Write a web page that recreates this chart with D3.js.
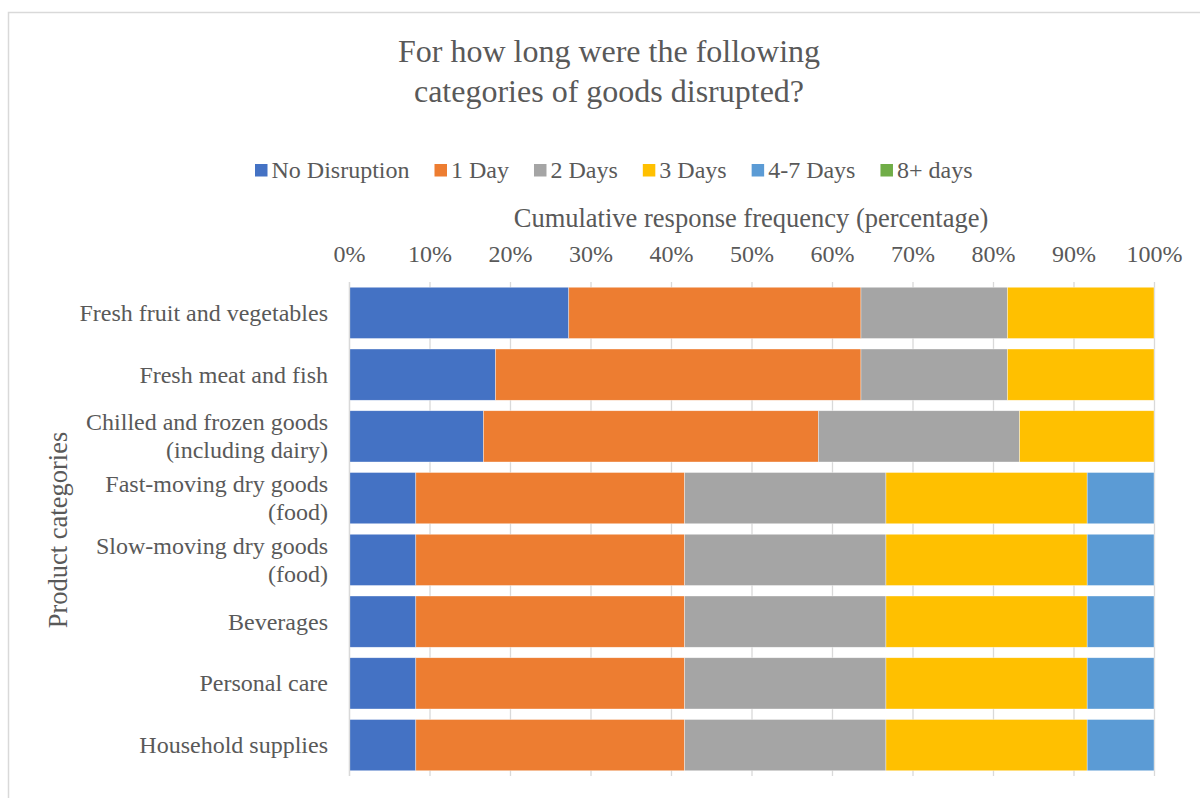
<!DOCTYPE html>
<html><head><meta charset="utf-8">
<script src="https://cdn.jsdelivr.net/npm/d3@7"></script>
<style>body{margin:0;background:#fff}svg{display:block}svg text{font-family:"Liberation Serif","Times New Roman",serif}</style>
</head><body>
<svg id="c" width="1200" height="798"></svg>
<script>
const categories = [
  ["Fresh fruit and vegetables"],
  ["Fresh meat and fish"],
  ["Chilled and frozen goods", "(including dairy)"],
  ["Fast-moving dry goods", "(food)"],
  ["Slow-moving dry goods", "(food)"],
  ["Beverages"],
  ["Personal care"],
  ["Household supplies"]
];
const seriesNames = ["No Disruption", "1 Day", "2 Days", "3 Days", "4-7 Days", "8+ days"];
const noDisruption = [27.3, 18.2, 16.7, 8.3, 8.3, 8.3, 8.3, 8.3];
const oneDay       = [36.3, 45.4, 41.6, 33.4, 33.4, 33.4, 33.4, 33.4];
const twoDays      = [18.2, 18.2, 25.0, 25.0, 25.0, 25.0, 25.0, 25.0];
const threeDays    = [18.2, 18.2, 16.7, 25.0, 25.0, 25.0, 25.0, 25.0];
const fourToSeven  = [0, 0, 0, 8.3, 8.3, 8.3, 8.3, 8.3];
const eightPlus    = [0, 0, 0, 0, 0, 0, 0, 0];
const xTicks = [0, 10, 20, 30, 40, 50, 60, 70, 80, 90, 100];
const colors = ["#4472C4", "#ED7D31", "#A5A5A5", "#FFC000", "#5B9BD5", "#70AD47"];

(function () {
const allSeries = [noDisruption, oneDay, twoDays, threeDays, fourToSeven, eightPlus];
const rows = categories.map((c, i) => {
  const r = {key: i};
  seriesNames.forEach((s, j) => r[s] = allSeries[j][i]);
  return r;
});

const svg = d3.select("#c");
const textColor = "#595959";
svg.append("rect").attr("x", 8.5).attr("y", 12.5).attr("width", 1200).attr("height", 800)
  .attr("fill", "none").attr("stroke", "#D9D9D9").attr("stroke-width", 1.5);

const pLeft = 349, pRight = 1154, pTop = 282, pBottom = 776;
const x = d3.scaleLinear().domain([0, 100]).range([pLeft, pRight]);
const y = d3.scaleBand().domain(d3.range(categories.length)).range([pTop, pBottom]).paddingInner(0.17).paddingOuter(0.085);

svg.append("text").attr("x", 609).attr("y", 62).attr("text-anchor", "middle")
  .attr("font-size", 32).attr("fill", textColor)
  .selectAll("tspan").data(["For how long were the following", "categories of goods disrupted?"]).join("tspan")
  .attr("x", 609).attr("dy", (d, i) => i ? 40 : 0).text(d => d);

const lg = svg.append("g").attr("font-size", 24).attr("fill", textColor);
let lx = 255;
seriesNames.forEach((s, i) => {
  lg.append("rect").attr("x", lx).attr("y", 164).attr("width", 12.5).attr("height", 12.5).attr("fill", colors[i]);
  const t = lg.append("text").attr("x", lx + 16.5).attr("y", 178).text(s);
  lx += 16.5 + t.node().getComputedTextLength() + 25;
});

svg.append("text").attr("x", 751).attr("y", 227).attr("text-anchor", "middle")
  .attr("font-size", 26.5).attr("fill", textColor).text("Cumulative response frequency (percentage)");

svg.append("g").selectAll("line").data(xTicks).join("line")
  .attr("x1", d => x(d) + 0.5).attr("x2", d => x(d) + 0.5)
  .attr("y1", pTop).attr("y2", pBottom)
  .attr("stroke", "#D9D9D9").attr("stroke-width", 1.3);

const ax = svg.append("g").attr("transform", `translate(0,${pTop})`)
  .call(d3.axisTop(x).tickValues(xTicks).tickFormat(d => d + "%").tickSize(0).tickPadding(20));
ax.select(".domain").remove();
ax.selectAll("text").attr("font-family", "Liberation Serif").attr("font-size", 24).attr("fill", textColor);

const stack = d3.stack().keys(seriesNames)(rows);
svg.append("g").selectAll("g").data(stack).join("g").attr("fill", (d, i) => colors[i])
  .selectAll("rect").data(d => d).join("rect")
  .attr("x", d => x(d[0])).attr("width", d => x(d[1]) - x(d[0]))
  .attr("y", (d, i) => y(i)).attr("height", y.bandwidth())
  .attr("stroke", "#fff").attr("stroke-width", 0.6).attr("stroke-opacity", 0.6);

svg.append("line").attr("x1", pLeft + 0.5).attr("x2", pLeft + 0.5).attr("y1", pTop).attr("y2", pBottom)
  .attr("stroke", "#D9D9D9").attr("stroke-width", 1.3);

const cl = svg.append("g").attr("font-size", 24).attr("fill", textColor).attr("text-anchor", "end");
categories.forEach((lines, i) => {
  const cy = y(i) + y.bandwidth() / 2;
  const t = cl.append("text").attr("x", 328).attr("y", cy - (lines.length - 1) * 14 + 8);
  lines.forEach((l, j) => t.append("tspan").attr("x", 328).attr("dy", j ? 28 : 0).text(l));
});

svg.append("text").attr("transform", "translate(67,530) rotate(-90)").attr("text-anchor", "middle")
  .attr("font-size", 26.5).attr("fill", textColor).text("Product categories");
})();
</script>
</body></html>
